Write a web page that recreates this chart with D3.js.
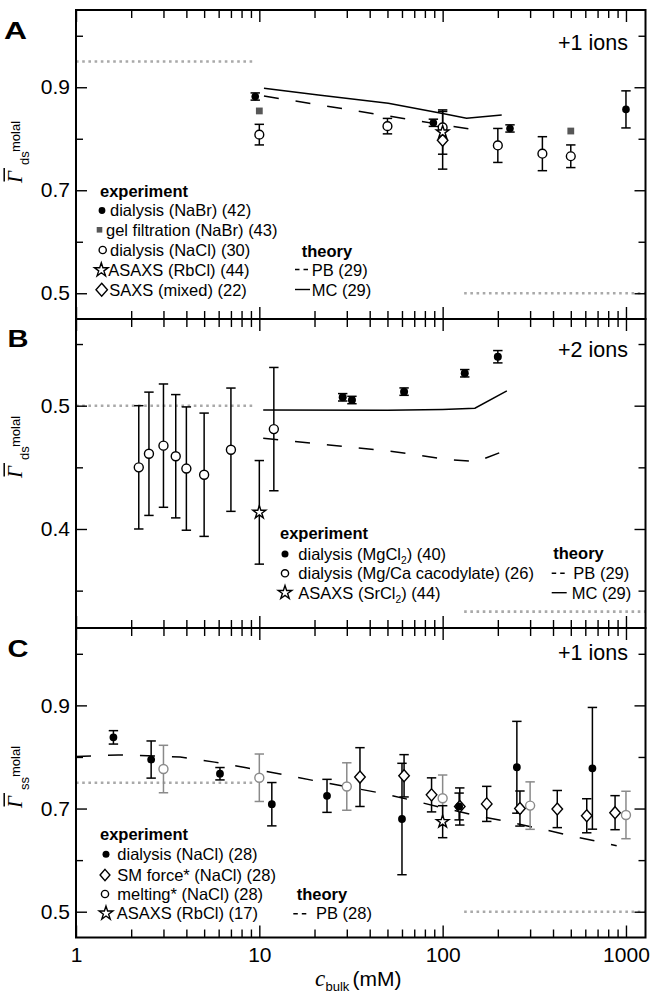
<!DOCTYPE html>
<html><head><meta charset="utf-8">
<script src="https://cdn.jsdelivr.net/npm/d3@7"></script>
<style>body{margin:0;background:#fff}svg{display:block}</style>
</head><body>
<svg id="chart" width="653" height="1003"></svg>
<script>
// ================= DATA =================
// x axis (bulk concentration, mM)
const xDomain = [1, 1278];
const xMajorTicks = [1, 10, 100, 1000];
const xTickLabels = ["1", "10", "100", "1000"];
const xMinorTicks = [2,3,4,5,6,7,8,9,20,30,40,50,60,70,80,90,200,300,400,500,600,700,800,900];

// y ticks
const yMajorA = [0.5, 0.7, 0.9], yMinorA = [0.6, 0.8, 1.0], yLabelsA = ["0.5", "0.7", "0.9"];
const yMajorB = [0.4, 0.5], yMinorB = [0.35, 0.45, 0.55], yLabelsB = ["0.4", "0.5"];
const yMajorC = [0.5, 0.7, 0.9], yMinorC = [0.6, 0.8, 1.0], yLabelsC = ["0.5", "0.7", "0.9"];

// ---- Panel A (+1 ions, ds) : [c, value, error] ----
const aDialysisNaBr = [[9.5, 0.882, 0.007], [89, 0.831, 0.007], [233, 0.820, 0.007], [1000, 0.857, 0.036]];
const aGelFiltrationNaBr = [[10, 0.854], [500, 0.815]];
const aDialysisNaCl = [[10, 0.808, 0.020], [50, 0.8245, 0.015], [100, 0.822, 0], [200, 0.787, 0.033], [350, 0.771, 0.033], [500, 0.766, 0.022]];
const aAsaxsRbCl = [[100, 0.813, 0.043]];
const aSaxsMixed = [[100, 0.797, 0.056]];
const aPB = [[10.6, 0.883], [30, 0.857], [60, 0.840], [100, 0.827], [155, 0.817]];
const aMC = [[10.6, 0.898], [21, 0.885], [50.5, 0.869], [100, 0.849], [135, 0.840], [210, 0.846]];
const aLimits = [[1, 9.5, 0.95], [131, 1278, 0.5]];

// ---- Panel B (+2 ions, ds) ----
const bDialysisMgCl2 = [[28.5, 0.5068, 0.003], [32, 0.5046, 0.003], [61.6, 0.5114, 0.003], [132, 0.5263, 0.003], [200, 0.5397, 0.005]];
const bDialysisCacodylate = [[2.2, 0.450, 0.05], [2.5, 0.461, 0.05], [3, 0.4676, 0.05], [3.5, 0.459, 0.05], [4, 0.449, 0.05], [5, 0.444, 0.05], [7, 0.4643, 0.05], [12, 0.481, 0.05]];
const bAsaxsSrCl2 = [[10, 0.4135, 0.042]];
const bPB = [[10.5, 0.4736], [24, 0.4681], [45, 0.4641], [68, 0.4608], [103, 0.4565], [153, 0.4546], [224, 0.4641]];
const bMC = [[10.5, 0.4965], [50, 0.4962], [100, 0.497], [150, 0.498], [224, 0.512]];
const bLimits = [[1, 9.5, 0.5], [131, 1278, 0.333]];

// ---- Panel C (+1 ions, ss) ----
const cDialysisNaCl = [[1.6, 0.838, 0.013], [2.57, 0.795, 0.036], [6.1, 0.7675, 0.012], [11.7, 0.7084, 0.042], [23.4, 0.7246, 0.032], [60, 0.6797, 0.108], [123, 0.704, 0.026], [254, 0.780, 0.089], [656, 0.778, 0.118]];
const cSMForce = [[35.4, 0.761, 0.057], [61.6, 0.7635, 0.041], [87, 0.7265, 0.033], [124, 0.704, 0.036], [174, 0.709, 0.034], [264, 0.700, 0.034], [422, 0.699, 0.036], [611, 0.686, 0.033], [872, 0.692, 0.033]];
const cMelting = [[3, 0.7766, 0.046], [10, 0.7597, 0.046], [30, 0.7427, 0.046], [100, 0.720, 0.045], [300, 0.7057, 0.046], [1000, 0.6875, 0.046]];
const cAsaxsRbCl = [[100, 0.6745, 0.031]];
const cPB = [[1, 0.801], [1.7, 0.804], [3.7, 0.800], [5.7, 0.790], [8.5, 0.779], [13, 0.767], [20, 0.754], [46, 0.730], [68, 0.716], [104, 0.700], [154, 0.686], [230, 0.674], [350, 0.660], [535, 0.645], [890, 0.628]];
const cLimits = [[1, 9.5, 0.75], [131, 1278, 0.5]];

// legend texts
const legendExpA = ["dialysis (NaBr) (42)", "gel filtration (NaBr) (43)", "dialysis (NaCl) (30)", "ASAXS (RbCl) (44)", "SAXS (mixed) (22)"];
const legendTheoryA = ["PB (29)", "MC (29)"];
const legendExpB = ["dialysis (MgCl_2) (40)", "dialysis (Mg/Ca cacodylate) (26)", "ASAXS (SrCl_2) (44)"];
const legendTheoryB = ["PB (29)", "MC (29)"];
const legendExpC = ["dialysis (NaCl) (28)", "SM force* (NaCl) (28)", "melting* (NaCl) (28)", "ASAXS (RbCl) (17)"];
const legendTheoryC = ["PB (28)"];
const panelLetters = ["A", "B", "C"];
const ionLabels = ["+1 ions", "+2 ions", "+1 ions"];

// ================= DRAWING =================
const FONT = "'Liberation Sans', Arial, Helvetica, sans-serif";
const SERIF = "'Liberation Serif', 'Times New Roman', serif";
const svg = d3.select("#chart");
const X0 = 76, X1 = 645.5;
const x = d3.scaleLog().domain(xDomain).range([X0, X1]);

function symbolPath(type, s) {
  if (type === "circle") return d3.symbol(d3.symbolCircle, Math.PI * s * s)();
  if (type === "square") return d3.symbol(d3.symbolSquare, s * s)();
  if (type === "star") return d3.symbol(d3.symbolStar, s * s / 0.8908130915292852)();
  if (type === "diamond") { const w = s * 0.88, h = s; return `M0,${-h}L${w},0L0,${h}L${-w},0Z`; }
}
const styles = {
  filled: { fill: "#000", stroke: "none", sw: 0 },
  open: { fill: "#fff", stroke: "#000", sw: 1.4 },
  gray: { fill: "#fff", stroke: "#8a8a8a", sw: 1.4 },
  graysq: { fill: "#575757", stroke: "none", sw: 0 },
};
function markers(g, data, y, type, s, st) {
  g.selectAll(null).data(data).join("path")
    .attr("d", symbolPath(type, s))
    .attr("transform", d => `translate(${x(d[0])},${y(d[1])})`)
    .attr("fill", st.fill).attr("stroke", st.stroke).attr("stroke-width", st.sw);
}
function errBars(g, data, y, color, cap = 4.7) {
  const f = data.filter(d => d[2] > 0);
  g.selectAll(null).data(f).join("line")
    .attr("x1", d => x(d[0])).attr("x2", d => x(d[0]))
    .attr("y1", d => y(d[1] - d[2])).attr("y2", d => y(d[1] + d[2]))
    .attr("stroke", color).attr("stroke-width", 1.5);
  [-1, 1].forEach(s => {
    g.selectAll(null).data(f).join("line")
      .attr("x1", d => x(d[0]) - cap).attr("x2", d => x(d[0]) + cap)
      .attr("y1", d => y(d[1] + s * d[2])).attr("y2", d => y(d[1] + s * d[2]))
      .attr("stroke", color).attr("stroke-width", 1.5);
  });
}
function theory(g, data, y, dashed) {
  g.append("path").datum(data)
    .attr("d", d3.line().x(d => x(d[0])).y(d => y(d[1])))
    .attr("fill", "none").attr("stroke", "#000").attr("stroke-width", 1.5)
    .attr("stroke-dasharray", dashed ? "15,17" : null);
}
function limits(g, data, y) {
  g.selectAll(null).data(data).join("line")
    .attr("x1", d => x(d[0])).attr("x2", d => x(d[1]))
    .attr("y1", d => y(d[2])).attr("y2", d => y(d[2]))
    .attr("stroke", "#a9a9a9").attr("stroke-width", 2.6).attr("stroke-dasharray", "2.6,3.6");
}
function axes(p, y, showXLabels) {
  const mk = (axis, tr, vals, size, pad, fmt) => {
    const a = svg.append("g").attr("transform", tr)
      .call(axis.tickValues(vals).tickSize(size).tickSizeOuter(0).tickPadding(pad).tickFormat(fmt || (() => "")));
    a.select(".domain").remove();
    a.selectAll("line").attr("stroke", "#000").attr("stroke-width", 1.4);
    a.selectAll("text").attr("font-family", FONT).attr("font-size", 21).attr("fill", "#000");
  };
  mk(d3.axisLeft(y), `translate(${X0},0)`, p.yMajor, -11, 6, (d, i) => p.yLabels[i]);
  mk(d3.axisLeft(y), `translate(${X0},0)`, p.yMinor, -7, 6);
  mk(d3.axisRight(y), `translate(${X1},0)`, p.yMajor, -11, 6);
  mk(d3.axisRight(y), `translate(${X1},0)`, p.yMinor, -7, 6);
  mk(d3.axisTop(x), `translate(0,${p.top})`, xMajorTicks, -12, 6);
  mk(d3.axisTop(x), `translate(0,${p.top})`, xMinorTicks, -8, 6);
  mk(d3.axisBottom(x), `translate(0,${p.bottom})`, xMajorTicks, -12, 10, showXLabels ? (d, i) => xTickLabels[i] : null);
  mk(d3.axisBottom(x), `translate(0,${p.bottom})`, xMinorTicks, -8, 10);
  svg.append("rect").attr("x", X0).attr("y", p.top).attr("width", X1 - X0).attr("height", p.bottom - p.top)
    .attr("fill", "none").attr("stroke", "#000").attr("stroke-width", 2);
}
function label(g, x0, y0, text, size, bold, anchor) {
  const t = g.append("text").attr("x", x0).attr("y", y0).attr("font-family", FONT)
    .attr("font-size", size).attr("fill", "#000");
  if (bold) t.attr("font-weight", "bold");
  if (anchor) t.attr("text-anchor", anchor);
  const parts = text.split(/_(\d)/);
  parts.forEach((s, i) => {
    if (!s) return;
    if (i % 2 === 1) t.append("tspan").attr("font-size", size * 0.62).attr("dy", 4).text(s);
    else t.append("tspan").attr("dy", i > 0 ? -4 : 0).text(s);
  });
  return t;
}
function legSym(g, type, cx, cy, s, st) {
  g.append("path").attr("d", symbolPath(type, s)).attr("transform", `translate(${cx},${cy})`)
    .attr("fill", st.fill).attr("stroke", st.stroke).attr("stroke-width", st.sw);
}
function legLine(g, x1, x2, yy, dashed) {
  g.append("line").attr("x1", x1).attr("x2", x2).attr("y1", yy).attr("y2", yy)
    .attr("stroke", "#000").attr("stroke-width", 1.4).attr("stroke-dasharray", dashed ? "4.5,4" : null);
}
function yTitle(cy, sub) {
  const g = svg.append("g").attr("transform", `translate(22,${cy}) rotate(-90)`);
  g.append("text").attr("x", 0).attr("y", 0).attr("font-family", SERIF).attr("font-style", "italic")
    .attr("font-size", 21).text("Γ");
  g.append("line").attr("x1", 1.5).attr("x2", 15).attr("y1", -17.8).attr("y2", -17.8)
    .attr("stroke", "#000").attr("stroke-width", 1.5);
  g.append("text").attr("x", 18).attr("y", 7.3).attr("font-family", FONT).attr("font-size", 13).text(sub);
  g.append("text").attr("x", 31).attr("y", -2).attr("font-family", FONT).attr("font-size", 13).text("molal");
}
function letter(t, x0, y0, w) {
  svg.append("text").attr("x", x0).attr("y", y0).attr("font-family", FONT).attr("font-weight", "bold")
    .attr("font-size", 24).attr("textLength", w).attr("lengthAdjust", "spacingAndGlyphs").text(t);
}

const LS = 16.5; // legend font size

// ---------- Panel A ----------
{
  const p = { top: 10, bottom: 319, yDomain: [0.45, 1.05], yMajor: yMajorA, yMinor: yMinorA, yLabels: yLabelsA };
  const y = d3.scaleLinear().domain(p.yDomain).range([p.bottom, p.top]);
  const g = svg.append("g");
  limits(g, aLimits, y);
  theory(g, aMC, y, false);
  theory(g, aPB, y, true);
  errBars(g, aDialysisNaBr, y, "#000");
  errBars(g, aDialysisNaCl, y, "#000");
  errBars(g, aSaxsMixed, y, "#000");
  errBars(g, aAsaxsRbCl, y, "#000");
  markers(g, aDialysisNaBr, y, "circle", 3.8, styles.filled);
  markers(g, aGelFiltrationNaBr, y, "square", 6.8, styles.graysq);
  markers(g, aDialysisNaCl, y, "circle", 4.4, styles.open);
  markers(g, aSaxsMixed, y, "diamond", 6, styles.open);
  markers(g, aAsaxsRbCl, y, "star", 6.6, styles.open);
  axes(p, y, false);
  letter(panelLetters[0], 4, 39, 23);
  label(svg, 628, 50, ionLabels[0], 21.5, false, "end");
  yTitle(183, "ds");
  // legend
  const L = svg.append("g");
  label(L, 100, 197, "experiment", LS, true);
  const rowsY = [210.5, 229.8, 250, 270, 289.7];
  legSym(L, "circle", 102, rowsY[0], 3.4, styles.filled);
  legSym(L, "square", 99.5, rowsY[1], 5.6, styles.graysq);
  legSym(L, "circle", 102.7, rowsY[2], 3.6, styles.open);
  legSym(L, "star", 101.3, rowsY[3], 7.2, styles.open);
  legSym(L, "diamond", 101.7, rowsY[4], 6.5, styles.open);
  const tx = [110, 106, 110, 108.3, 109.3];
  legendExpA.forEach((t, i) => label(L, tx[i], rowsY[i] + 5.8, t, LS, false));
  label(L, 301.7, 257, "theory", LS, true);
  legLine(L, 295, 309, 269.5, true);
  legLine(L, 295, 310, 289.5, false);
  label(L, 311.7, 275.5, legendTheoryA[0], LS, false);
  label(L, 311.7, 295.5, legendTheoryA[1], LS, false);
}

// ---------- Panel B ----------
{
  const p = { top: 319, bottom: 628, yDomain: [0.3197, 0.5703], yMajor: yMajorB, yMinor: yMinorB, yLabels: yLabelsB };
  const y = d3.scaleLinear().domain(p.yDomain).range([p.bottom, p.top]);
  const g = svg.append("g");
  limits(g, bLimits, y);
  theory(g, bMC, y, false);
  theory(g, bPB, y, true);
  errBars(g, bDialysisMgCl2, y, "#000");
  errBars(g, bDialysisCacodylate, y, "#000");
  errBars(g, bAsaxsSrCl2, y, "#000");
  markers(g, bDialysisMgCl2, y, "circle", 4, styles.filled);
  markers(g, bDialysisCacodylate, y, "circle", 4.5, styles.open);
  markers(g, bAsaxsSrCl2, y, "star", 6.8, styles.open);
  axes(p, y, false);
  letter(panelLetters[1], 7.5, 346.5, 21);
  label(svg, 628, 356.5, ionLabels[1], 21.5, false, "end");
  yTitle(478, "ds");
  const L = svg.append("g");
  label(L, 280, 538.5, "experiment", LS, true);
  const rowsY = [554, 573.3, 592.7];
  legSym(L, "circle", 285, rowsY[0], 3.5, styles.filled);
  legSym(L, "circle", 285, rowsY[1], 3.6, styles.open);
  legSym(L, "star", 285, rowsY[2], 7.2, styles.open);
  legendExpB.forEach((t, i) => label(L, 298.3, rowsY[i] + 5.8, t, LS, false));
  label(L, 553.3, 558.5, "theory", LS, true);
  legLine(L, 551.7, 566.5, 573.3, true);
  legLine(L, 551.7, 566.7, 592.7, false);
  label(L, 573.3, 579.1, legendTheoryB[0], LS, false);
  label(L, 571.7, 598.5, legendTheoryB[1], LS, false);
}

// ---------- Panel C ----------
{
  const p = { top: 628, bottom: 937.5, yDomain: [0.45, 1.05], yMajor: yMajorC, yMinor: yMinorC, yLabels: yLabelsC };
  const y = d3.scaleLinear().domain(p.yDomain).range([p.bottom, p.top]);
  const g = svg.append("g");
  limits(g, cLimits, y);
  theory(g, cPB, y, true);
  errBars(g, cMelting, y, "#8a8a8a");
  errBars(g, cSMForce, y, "#000");
  errBars(g, cDialysisNaCl, y, "#000");
  errBars(g, cAsaxsRbCl, y, "#000");
  markers(g, cMelting, y, "circle", 4.5, styles.gray);
  markers(g, cSMForce, y, "diamond", 6, styles.open);
  markers(g, cDialysisNaCl, y, "circle", 3.9, styles.filled);
  markers(g, cAsaxsRbCl, y, "star", 6.6, styles.open);
  axes(p, y, true);
  letter(panelLetters[2], 7.5, 657, 21);
  label(svg, 628, 660, ionLabels[2], 21.5, false, "end");
  yTitle(808, "ss");
  const L = svg.append("g");
  label(L, 100, 839.5, "experiment", LS, true);
  const rowsY = [854.3, 875, 894, 913.3];
  legSym(L, "circle", 106, rowsY[0], 3.5, styles.filled);
  legSym(L, "diamond", 105, rowsY[1], 5.6, styles.open);
  legSym(L, "circle", 105, rowsY[2], 3.6, styles.open);
  legSym(L, "star", 106, rowsY[3], 7.2, styles.open);
  const tx = [117.3, 117.3, 117.3, 116.7];
  legendExpC.forEach((t, i) => label(L, tx[i], rowsY[i] + 5.8, t, LS, false));
  label(L, 296.7, 899.5, "theory", LS, true);
  legLine(L, 293.3, 309, 913.8, true);
  label(L, 316, 919.3, legendTheoryC[0], LS, false);
}

// x axis title
{
  const t = svg.append("text").attr("y", 986).attr("font-family", FONT).attr("font-size", 21).attr("fill", "#000");
  t.append("tspan").attr("x", 315).attr("font-family", SERIF).attr("font-style", "italic").attr("font-size", 23).text("c");
  t.append("tspan").attr("x", 325.5).attr("dy", 5).attr("font-size", 13).text("bulk");
  t.append("tspan").attr("x", 352.5).attr("dy", -5).text("(mM)");
}
</script>
</body></html>
